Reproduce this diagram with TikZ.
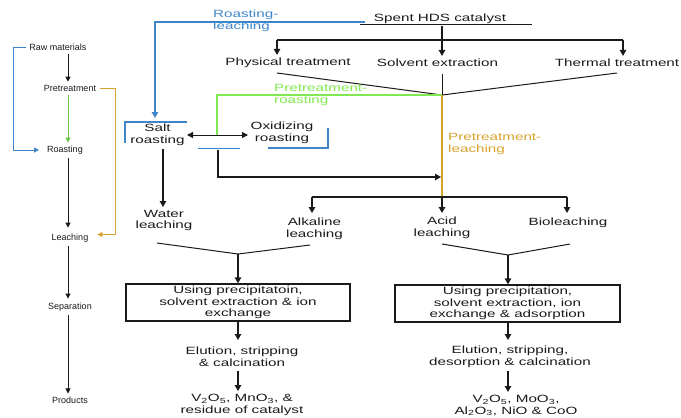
\documentclass[tikz,border=0pt]{standalone}
\usepackage{fontspec}
\setmainfont{Liberation Sans}
\newfontfamily\widefont[FakeStretch=1.45]{Liberation Sans}
\usetikzlibrary{arrows.meta}
\definecolor{rblue}{HTML}{3F86C8}
\definecolor{rgreen}{HTML}{80E850}
\definecolor{rgold}{HTML}{D6A22A}
\definecolor{ink}{HTML}{1A1A1A}

\begin{document}
\begin{tikzpicture}[x=1pt,y=-1pt,
  lbl/.style={inner sep=0pt, align=center, text=ink,
    font=\widefont\fontsize{10.5}{11.8}\selectfont},
  side/.style={inner sep=0pt, text=ink, font=\fontsize{9}{10}\selectfont},
  tip/.style={-{Triangle[length=6pt,width=6.5pt]}},
  arr/.style={line width=1.3pt, draw=ink, tip},
  thinarr/.style={line width=0.9pt, -{Triangle[length=5pt,width=5pt]}},
  ln/.style={line width=1pt, draw=ink},
  route/.style={line width=1.2pt},
  stage/.style={draw=ink, line width=1.3pt, minimum height=37pt,
    inner sep=0pt, align=center, text=ink,
    font=\widefont\fontsize{10.5}{11.7}\selectfont}
]
\useasboundingbox (0,0) rectangle (681,418);

% ---------- process stages (left column) ----------
\node[side] (raw) at (58,47)  {Raw materials};
\node[side] (pre) at (70,88)  {Pretreatment};
\node[side] (roa) at (65,150) {Roasting};
\node[side] (lea) at (70,238) {Leaching};
\node[side] (sep) at (70,307) {Separation};
\node[side] (pro) at (70,400) {Products};
\coordinate (lx) at (68,0);
\coordinate (bx) at (13,0);
\coordinate (ox) at (115,0);
\coordinate (btip) at ([xshift=-8pt]roa.west);
\coordinate (otip) at ([xshift=9pt,yshift=3.5pt]lea.east);

\draw[thinarr, draw=ink, shorten <=3pt, shorten >=3pt] (raw.south -| lx) -- (pre.north -| lx);
\draw[thinarr, draw=rgreen!85!black, shorten <=4pt, shorten >=3pt] (pre.south -| lx) -- (roa.north -| lx);
\draw[thinarr, draw=ink, shorten <=4pt, shorten >=6pt] (roa.south -| lx) -- (lea.north -| lx);
\draw[thinarr, draw=ink, shorten <=4pt, shorten >=4pt] (lea.south -| lx) -- (sep.north -| lx);
\draw[thinarr, draw=ink, shorten <=4pt, shorten >=3pt] (sep.south -| lx) -- (pro.north -| lx);

\draw[thinarr, draw=rblue] ([xshift=-3pt]raw.west) -| (bx |- btip) -- (btip);
\draw[thinarr, draw=rgold] ([xshift=4pt]pre.east) -| (ox |- otip) -- (otip);

% ---------- feed and pretreatment ----------
\node[lbl] (spent) at (440,19) {Spent HDS catalyst};
\node[lbl] (phys)  at (288,63) {Physical treatment};
\node[lbl] (solv)  at (437.5,63) {Solvent extraction};
\node[lbl] (therm) at (617,63) {Thermal treatment};

\coordinate (ulL) at (360,24.5);
\coordinate (ulR) at (532,24.5);
\draw[ln] (ulL) -- (ulR);

\coordinate (sx) at (442,26);
\coordinate (bar) at (442,40);
\coordinate (barL) at (277,40);
\coordinate (barR) at (623,40);
\draw[ln, line width=1.3pt] (barL) -- (barR);
\draw[arr, shorten >=3pt] (sx) -- (bar |- solv.north);
\draw[arr, shorten >=3pt] (barL) -- (barL |- phys.north);
\draw[arr, shorten >=3pt] (barR) -- (barR |- therm.north);

\coordinate (mix) at (442,95);
\draw[ln] (277,73) -- (mix);
\draw[ln] (442,74) -- (mix);
\draw[ln] (617,73) -- (mix);

% ---------- roasting routes ----------
\node[lbl, text=rblue, align=left, anchor=west] (rlab) at (213,21) {Roasting-\\leaching};
\node[lbl, text=rgreen, align=left, anchor=west] (prlab) at (274,95) {Pretreatment-\\roasting};
\node[lbl, text=rgold, align=left, anchor=west] (pllab) at (448,144) {Pretreatment-\\leaching};

\node[lbl] (salt) at (157.5,135) {Salt\\roasting};
\node[lbl] (oxid) at (282,133)   {Oxidizing\\roasting};

\coordinate (bluetop) at (365,22);
\draw[rblue, line width=1.4pt, tip] (bluetop) -| (155,118);

\draw[rblue, line width=1.6pt] (187,122) -- (125,122) -- (125,143);
\draw[rblue, line width=1.6pt] (198,148.5) -- (240,148.5);
\draw[rblue, line width=1.6pt] (268,148) -- (328,148) -- (328,128);

\coordinate (gx) at (217,135);
\draw[rgreen, route] (mix) -| (gx);
\draw[ln, {Triangle[length=6pt,width=6pt]}-{Triangle[length=6pt,width=6pt]}] (187,135) -- (248,135);

\coordinate (bk1) at (218,150);
\coordinate (bk2) at (218,177);
\coordinate (bk3) at (441,177);
\draw[ln, line width=1.2pt, tip] (bk1) -- (bk2) -- (bk3);

\coordinate (leachbar) at (442,197);
\draw[rgold, route] (mix) -- (leachbar);

% ---------- leaching ----------
\node[lbl] (water) at (164,220.5) {Water\\leaching};
\node[lbl] (alk)   at (314.5,229) {Alkaline\\leaching};
\node[lbl] (acid)  at (442,228)   {Acid\\leaching};
\node[lbl] (bio)   at (568,223)   {Bioleaching};

\draw[arr] (163,149) -- (163,207);

\coordinate (lbL) at (312,197);
\coordinate (lbR) at (567,197);
\draw[ln, line width=1.3pt] (lbL) -- (lbR);
\draw[arr] (lbL) -- (312,213);
\draw[arr] (leachbar) -- (442,213);
\draw[arr] (lbR) -- (567,213);

% ---------- separation and products ----------
\coordinate (mL) at (238,254);
\coordinate (mR) at (508,255);
\draw[ln] (157,243) -- (mL) -- (310,245);
\draw[ln] (442,244) -- (mR) -- (570,244);

\node[stage, minimum width=224pt] (sepL) at (238,302.5)
  {Using precipitatoin,\\solvent extraction \& ion\\exchange};
\node[stage, minimum width=225pt] (sepR) at (507.5,303.5)
  {Using precipitation,\\solvent extraction, ion\\exchange \& adsorption};

\draw[arr] (mL) -- (sepL.north -| mL);
\draw[arr] (mR) -- (sepR.north -| mR);

\node[lbl] (eluL) at (242,357) {Elution, stripping\\\& calcination};
\node[lbl] (eluR) at (510,357) {Elution, stripping,\\desorption \& calcination};

\draw[arr] (sepL.south -| mL) -- (238,340);
\draw[arr] (sepR.south -| mR) -- (508,340);

\node[lbl] (prodL) at (242,405) {V\textsubscript{2}O\textsubscript{5}, MnO\textsubscript{3}, \&\\residue of catalyst};
\node[lbl] (prodR) at (516,405.5) {V\textsubscript{2}O\textsubscript{5}, MoO\textsubscript{3},\\Al\textsubscript{2}O\textsubscript{3}, NiO \& CoO};

\draw[arr] (238,371) -- (238,391);
\draw[arr] (508,371) -- (508,392);
\end{tikzpicture}
\end{document}
